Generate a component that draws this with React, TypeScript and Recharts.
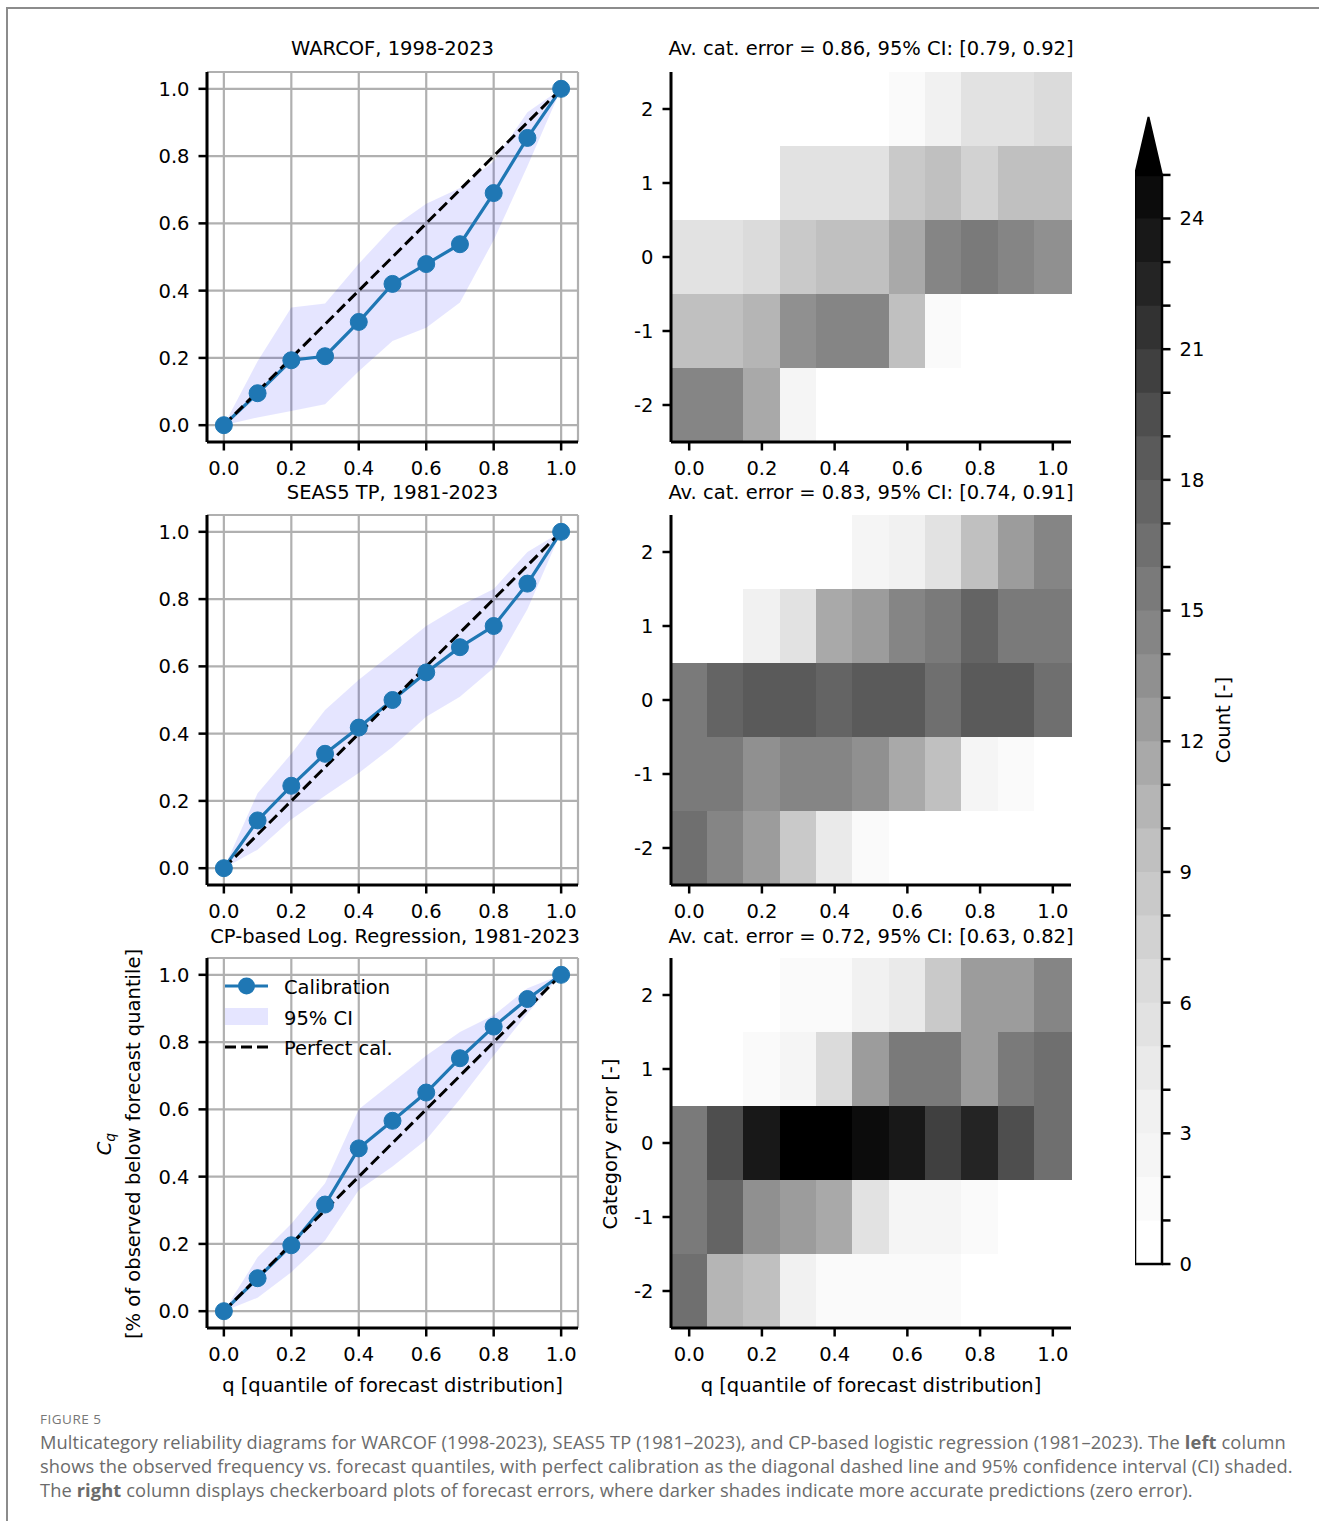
import React from 'react';
import { ComposedChart, Line, Area, XAxis, YAxis, CartesianGrid, ReferenceArea } from 'recharts';

// quantile grid and axis ticks
const quantiles = [0, 0.1, 0.2, 0.3, 0.4, 0.5, 0.6, 0.7, 0.8, 0.9, 1.0];
const axisTicks = [0, 0.2, 0.4, 0.6, 0.8, 1.0];
const categories = [2, 1, 0, -1, -2];
const cbTicks = [0, 1, 2, 3, 4, 5, 6, 7, 8, 9, 10, 11, 12, 13, 14, 15, 16, 17, 18, 19, 20, 21, 22, 23, 24, 25];
const cbLabels = [0, 3, 6, 9, 12, 15, 18, 21, 24];

// WARCOF, 1998-2023
const warcofCal = [0, 0.095, 0.193, 0.205, 0.307, 0.42, 0.479, 0.538, 0.69, 0.854, 1.0];
const warcofLo = [0, 0.023, 0.042, 0.062, 0.16, 0.25, 0.29, 0.365, 0.55, 0.77, 1.0];
const warcofHi = [0, 0.19, 0.35, 0.362, 0.48, 0.588, 0.658, 0.705, 0.785, 0.93, 1.0];

// SEAS5 TP, 1981-2023
const seas5Cal = [0, 0.142, 0.245, 0.34, 0.418, 0.5, 0.582, 0.657, 0.72, 0.846, 1.0];
const seas5Lo = [0, 0.055, 0.145, 0.215, 0.283, 0.36, 0.45, 0.51, 0.595, 0.77, 1.0];
const seas5Hi = [0, 0.223, 0.34, 0.47, 0.56, 0.64, 0.72, 0.78, 0.83, 0.94, 1.0];

// CP-based Log. Regression, 1981-2023
const cpCal = [0, 0.098, 0.196, 0.317, 0.484, 0.566, 0.65, 0.752, 0.846, 0.928, 1.0];
const cpLo = [0, 0.04, 0.116, 0.21, 0.36, 0.43, 0.51, 0.63, 0.76, 0.885, 1.0];
const cpHi = [0, 0.16, 0.26, 0.38, 0.6, 0.68, 0.76, 0.83, 0.88, 0.96, 1.0];

// checkerboard counts, rows = category error 2..-2, cols = quantiles
const warcofCounts = [
  [0, 0, 0, 0, 0, 0, 1, 3, 5, 5, 6],
  [0, 0, 0, 5, 5, 5, 8, 9, 7, 9, 9],
  [5, 5, 6, 8, 9, 9, 11, 14, 15, 14, 13],
  [9, 9, 10, 13, 14, 14, 9, 1, 0, 0, 0],
  [14, 14, 11, 2, 0, 0, 0, 0, 0, 0, 0],
];
const seas5Counts = [
  [0, 0, 0, 0, 0, 2, 3, 5, 9, 12, 14],
  [0, 0, 3, 5, 11, 12, 14, 15, 17, 15, 15],
  [15, 17, 18, 18, 17, 18, 18, 16, 18, 18, 16],
  [15, 15, 13, 14, 14, 13, 11, 9, 2, 1, 0],
  [16, 14, 12, 8, 4, 1, 0, 0, 0, 0, 0],
];
const cpCounts = [
  [0, 0, 0, 1, 1, 3, 4, 8, 12, 12, 14],
  [0, 0, 1, 2, 6, 12, 15, 15, 12, 15, 16],
  [15, 19, 23, 26, 26, 24, 23, 20, 22, 19, 16],
  [15, 17, 13, 12, 11, 5, 2, 2, 1, 0, 0],
  [16, 10, 9, 3, 1, 1, 1, 1, 0, 0, 0],
];

const FONT = 'DejaVu Sans';
const FS = 19.5;
const greysStops = [255, 240, 217, 189, 150, 115, 82, 37, 0];

// matplotlib Greys, 25 discrete levels + "max" extension
const greys = (count: number): string => {
  const t = Math.min(Math.floor(count), 25) / 25;
  const p = t * 8;
  const i = Math.min(Math.floor(p), 7);
  const v = Math.round(greysStops[i] + (greysStops[i + 1] - greysStops[i]) * (p - i));
  return `rgb(${v},${v},${v})`;
};

const fmt1 = (v: number) => v.toFixed(1);
const tickStyle = { fill: '#000', fontSize: FS, fontFamily: FONT };
const tickLineStyle = { stroke: '#000', strokeWidth: 2.5 };
const frame = { stroke: '#000', strokeWidth: 3 };

const Label: React.FC<{ x: number; y: number; children: React.ReactNode; rotate?: boolean; size?: number }> = ({ x, y, children, rotate, size = FS }) => (
  <div
    style={{
      position: 'absolute', left: x, top: y, fontFamily: FONT, fontSize: size, lineHeight: '24px',
      whiteSpace: 'nowrap', color: '#000',
      transform: rotate ? 'translate(-50%,-50%) rotate(-90deg)' : 'translate(-50%,-50%)',
    }}
  >
    {children}
  </div>
);

interface RelProps { cal: number[]; lo: number[]; hi: number[]; top: number }

const Reliability: React.FC<RelProps> = ({ cal, lo, hi, top }) => {
  const rows = quantiles.map((q, i) => ({ q, cal: cal[i], band: [lo[i], hi[i]], perfect: q }));
  return (
    <div style={{ position: 'absolute', left: 207 - 67, top: top - 10 }}>
      <ComposedChart width={67 + 371 + 10} height={10 + 370 + 40} data={rows} margin={{ top: 10, right: 10, left: 0, bottom: 0 }}>
        <CartesianGrid stroke="#b0b0b0" strokeWidth={2.2} />
        <XAxis type="number" dataKey="q" domain={[-0.05, 1.05]} allowDataOverflow ticks={axisTicks} interval={0}
          tickFormatter={fmt1} tick={tickStyle} tickLine={tickLineStyle} tickSize={8.5} tickMargin={11} axisLine={frame} height={40} />
        <XAxis xAxisId="top" orientation="top" type="number" domain={[-0.05, 1.05]} allowDataOverflow height={0}
          tick={false} tickLine={false} axisLine={frame} />
        <YAxis type="number" domain={[-0.05, 1.05]} allowDataOverflow ticks={axisTicks} interval={0}
          tickFormatter={fmt1} tick={tickStyle} tickLine={tickLineStyle} tickSize={8.5} tickMargin={9} axisLine={frame} width={67} />
        <YAxis yAxisId="right" orientation="right" type="number" domain={[-0.05, 1.05]} allowDataOverflow width={0}
          tick={false} tickLine={false} axisLine={frame} />
        <Area dataKey="band" type="linear" stroke="none" fill="#0000ff" fillOpacity={0.1} isAnimationActive={false} />
        <Line dataKey="cal" type="linear" stroke="#1f77b4" strokeWidth={3.2} isAnimationActive={false}
          dot={{ r: 8.5, fill: '#1f77b4', stroke: '#1f77b4', strokeWidth: 1 }} activeDot={false} />
        <Line dataKey="perfect" type="linear" stroke="#000" strokeWidth={3} strokeDasharray="11 5" dot={false}
          activeDot={false} isAnimationActive={false} />
      </ComposedChart>
    </div>
  );
};

interface HeatProps { counts: number[][]; top: number }

const Heatmap: React.FC<HeatProps> = ({ counts, top }) => {
  const cells: { q: number; cat: number; count: number }[] = [];
  categories.forEach((cat, r) => quantiles.forEach((q, c) => cells.push({ q, cat, count: counts[r][c] })));
  return (
    <div style={{ position: 'absolute', left: 671 - 60, top: top - 10 }}>
      <ComposedChart width={60 + 400 + 10} height={10 + 370 + 40} data={cells} margin={{ top: 10, right: 10, left: 0, bottom: 0 }}>
        {cells.map((d, i) => (
          <ReferenceArea key={i} x1={d.q - 0.05} x2={d.q + 0.05} y1={d.cat - 0.5} y2={d.cat + 0.5}
            fill={greys(d.count)} fillOpacity={1} stroke={greys(d.count)} strokeWidth={1}
            shapeRendering="crispEdges" ifOverflow="visible" />
        ))}
        <XAxis type="number" dataKey="q" domain={[-0.05, 1.05]} allowDataOverflow ticks={axisTicks} interval={0}
          tickFormatter={fmt1} tick={tickStyle} tickLine={tickLineStyle} tickSize={8.5} tickMargin={11} axisLine={frame} height={40} />
        <XAxis xAxisId="top" orientation="top" type="number" domain={[-0.05, 1.05]} allowDataOverflow height={0}
          tick={false} tickLine={false} axisLine={frame} />
        <YAxis type="number" dataKey="cat" domain={[-2.5, 2.5]} allowDataOverflow ticks={categories} interval={0}
          tickFormatter={(v: number) => String(v)} tick={tickStyle} tickLine={tickLineStyle} tickSize={8.5} tickMargin={9}
          axisLine={frame} width={60} />
        <YAxis yAxisId="right" orientation="right" type="number" domain={[-2.5, 2.5]} allowDataOverflow width={0}
          tick={false} tickLine={false} axisLine={frame} />
      </ComposedChart>
    </div>
  );
};

const Colorbar: React.FC = () => {
  const extTop = 26.33;
  const levels = cbTicks.map((v) => ({ x: 0.5, v }));
  return (
    <div style={{ position: 'absolute', left: 1135, top: 117 - 10 }}>
      <ComposedChart width={27 + 60} height={10 + 1147 + 24} data={levels} margin={{ top: 10, right: 0, left: 0, bottom: 24 }}>
        <XAxis type="number" dataKey="x" domain={[0, 1]} allowDataOverflow height={0} tick={false} tickLine={false} axisLine={false} />
        <YAxis orientation="right" type="number" dataKey="v" domain={[0, extTop]} allowDataOverflow ticks={cbTicks} interval={0}
          tickFormatter={(v: number) => (cbLabels.includes(v) ? String(v) : '')} tick={tickStyle} tickLine={tickLineStyle}
          tickSize={8.5} tickMargin={9} axisLine={false} width={60} />
        {cbTicks.slice(0, 25).map((k) => (
          <ReferenceArea key={k} x1={0} x2={1} y1={k} y2={k + 1.02} fill={greys(k)} fillOpacity={1} stroke="none"
            ifOverflow="visible" />
        ))}
        <ReferenceArea x1={0} x2={1} y1={25} y2={extTop} ifOverflow="visible"
          shape={(p: any) => (
            <polygon points={`${p.x},${p.y + p.height} ${p.x + p.width / 2},${p.y} ${p.x + p.width},${p.y + p.height}`}
              fill="#000" stroke="#000" strokeWidth={2} />
          )} />
        <ReferenceArea x1={0} x2={1} y1={0} y2={25} fill="none" fillOpacity={0} stroke="#000" strokeWidth={2.5} ifOverflow="visible" />
      </ComposedChart>
    </div>
  );
};

const App: React.FC = () => {
  const rowTops = [72, 515, 958];
  return (
    <div style={{ position: 'relative', width: 1319, height: 1521, background: '#fff', overflow: 'hidden' }}>
      <style>{'body{margin:0}'}</style>
      <div style={{ position: 'absolute', left: 6, top: 7, width: 1313, height: 1514, borderLeft: '2px solid #8c8c8c', borderTop: '2px solid #8c8c8c' }} />

      <Reliability cal={warcofCal} lo={warcofLo} hi={warcofHi} top={rowTops[0]} />
      <Reliability cal={seas5Cal} lo={seas5Lo} hi={seas5Hi} top={rowTops[1]} />
      <Reliability cal={cpCal} lo={cpLo} hi={cpHi} top={rowTops[2]} />
      <Heatmap counts={warcofCounts} top={rowTops[0]} />
      <Heatmap counts={seas5Counts} top={rowTops[1]} />
      <Heatmap counts={cpCounts} top={rowTops[2]} />
      <Colorbar />

      <Label x={392.5} y={49}>WARCOF, 1998-2023</Label>
      <Label x={392.5} y={493}>SEAS5 TP, 1981-2023</Label>
      <Label x={395} y={937}>CP-based Log. Regression, 1981-2023</Label>
      <Label x={871} y={49}>Av. cat. error = 0.86, 95% CI: [0.79, 0.92]</Label>
      <Label x={871} y={493}>Av. cat. error = 0.83, 95% CI: [0.74, 0.91]</Label>
      <Label x={871} y={937}>Av. cat. error = 0.72, 95% CI: [0.63, 0.82]</Label>

      <Label x={392.5} y={1386}>q [quantile of forecast distribution]</Label>
      <Label x={871} y={1386}>q [quantile of forecast distribution]</Label>
      <Label x={107} y={1144} rotate>
        <span style={{ fontStyle: 'italic' }}>C</span>
        <span style={{ fontStyle: 'italic', fontSize: 14, verticalAlign: '-4px' }}>q</span>
      </Label>
      <Label x={134} y={1144} rotate>[% of observed below forecast quantile]</Label>
      <Label x={611} y={1144} rotate>Category error [-]</Label>
      <Label x={1224} y={720} rotate>Count [-]</Label>

      {/* legend of the bottom-left panel */}
      <svg style={{ position: 'absolute', left: 220, top: 970 }} width={60} height={90}>
        <line x1={5} x2={48} y1={16} y2={16} stroke="#1f77b4" strokeWidth={3.2} />
        <circle cx={26.5} cy={16} r={8.5} fill="#1f77b4" />
        <rect x={5} y={38} width={43} height={17} fill="#0000ff" fillOpacity={0.1} />
        <line x1={5} x2={48} y1={77} y2={77} stroke="#000" strokeWidth={3} strokeDasharray="11 5" />
      </svg>
      <div style={{ position: 'absolute', left: 284, top: 973, fontFamily: FONT, fontSize: FS, lineHeight: '30.5px' }}>
        <div>Calibration</div>
        <div>95% CI</div>
        <div>Perfect cal.</div>
      </div>

      <div style={{ position: 'absolute', left: 40, top: 1410, fontFamily: 'Open Sans', fontSize: 13.5, color: '#777', letterSpacing: 0.5 }}>
        FIGURE 5
      </div>
      <div style={{ position: 'absolute', left: 40, top: 1430, fontFamily: 'Open Sans', fontSize: 18.3, lineHeight: '24px', color: '#6b6b6b', whiteSpace: 'nowrap', letterSpacing: 0.1 }}>
        Multicategory reliability diagrams for WARCOF (1998-2023), SEAS5 TP (1981–2023), and CP-based logistic regression (1981–2023). The <b>left</b> column
        <br />
        shows the observed frequency vs. forecast quantiles, with perfect calibration as the diagonal dashed line and 95% confidence interval (CI) shaded.
        <br />
        The <b>right</b> column displays checkerboard plots of forecast errors, where darker shades indicate more accurate predictions (zero error).
      </div>
    </div>
  );
};

export default App;
